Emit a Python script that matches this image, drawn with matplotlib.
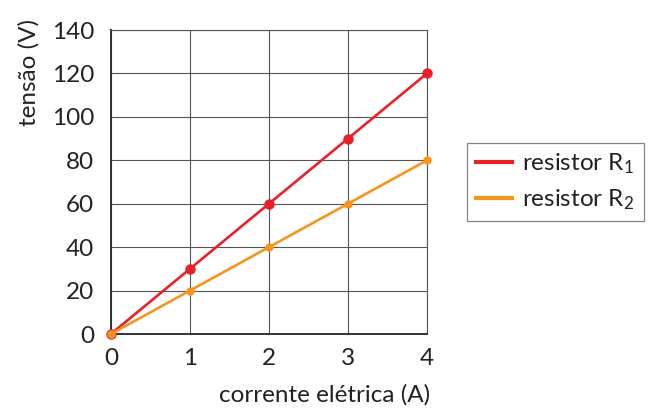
import numpy as np
import matplotlib.pyplot as plt

plt.rcParams['font.family'] = ['Lato', 'DejaVu Sans']
plt.rcParams['mathtext.fontset'] = 'custom'
plt.rcParams['mathtext.rm'] = 'Lato'
plt.rcParams['mathtext.default'] = 'regular'

corrente = [0, 1, 2, 3, 4]
tensao_r1 = [0, 30, 60, 90, 120]
tensao_r2 = [0, 20, 40, 60, 80]

fig = plt.figure(figsize=(6.64, 4.17), dpi=100)
ax = fig.add_axes([0.167, 0.199, 0.476, 0.729])

ax.plot(corrente, tensao_r1, color='#e8202a', lw=1.9, marker='o', ms=6.5,
        label='resistor R$_1$', zorder=3, clip_on=False)
ax.plot(corrente, tensao_r2, color='#f7941d', lw=1.9, marker='o', ms=5,
        label='resistor R$_2$', zorder=4, clip_on=False)

ax.set_xlim(0, 4)
ax.set_ylim(0, 140)
ax.set_xticks(range(0, 5))
ax.set_yticks(range(0, 141, 20))
ax.grid(True, color='#555555', lw=0.8)
ax.tick_params(length=0, labelsize=17.5, colors='#222222')
ax.tick_params(axis='y', pad=12)
ax.tick_params(axis='x', pad=10)
for s in ['top', 'right']:
    ax.spines[s].set_color('#555555')
    ax.spines[s].set_linewidth(0.8)
for s in ['left', 'bottom']:
    ax.spines[s].set_color('#333333')
    ax.spines[s].set_linewidth(1.4)
for lab in ax.get_xticklabels() + ax.get_yticklabels():
    lab.set_color('#222222')

ax.set_ylabel('tensão (V)', fontsize=17.5, color='#222222')
ax.yaxis.set_label_coords(-0.225, 0.86)
ax.set_xlabel('corrente elétrica (A)', fontsize=17.5, color='#222222')
ax.xaxis.set_label_coords(1.01, -0.165)
ax.xaxis.label.set_horizontalalignment('right')

leg = fig.legend(loc='center left', bbox_to_anchor=(0.703, 0.564), fontsize=17.5,
                 frameon=True, fancybox=False, edgecolor='#666666',
                 handlelength=1.5, handletextpad=0.4, borderpad=0.38,
                 labelspacing=0.45, borderaxespad=0)
leg.get_frame().set_linewidth(0.9)
for line in leg.get_lines():
    line.set_linewidth(3)
    line.set_marker('')
for t in leg.get_texts():
    t.set_color('#222222')

fig.savefig('out.png', dpi=100)
